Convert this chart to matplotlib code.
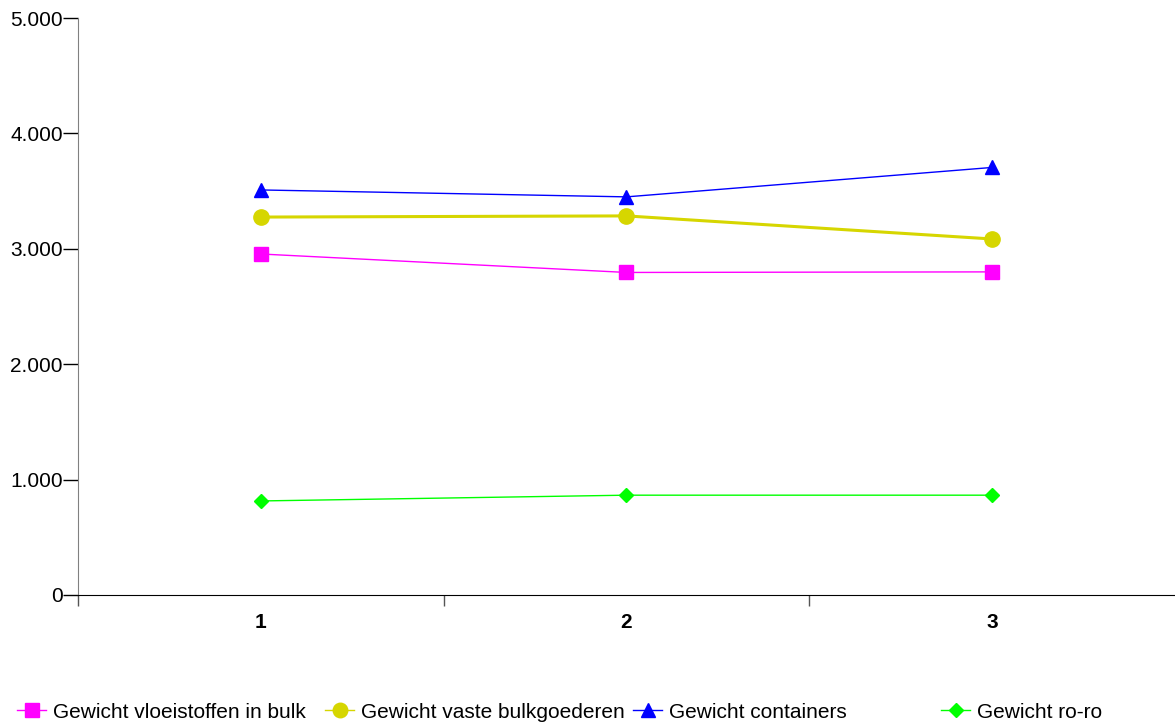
import matplotlib.pyplot as plt
from matplotlib.lines import Line2D
from matplotlib.ticker import FuncFormatter

plt.rcParams['font.family'] = ['Liberation Sans', 'DejaVu Sans']

# Gegevens
categorieen = [1, 2, 3]
vloeistoffen = [2955, 2795, 2800]
vaste_bulk = [3275, 3285, 3085]
containers = [3510, 3450, 3705]
roro = [815, 865, 865]

series = [
    ('Gewicht vloeistoffen in bulk', vloeistoffen, '#ff00ff', 's', 10, 1.0),
    ('Gewicht vaste bulkgoederen', vaste_bulk, '#d6d600', 'o', 11, 2.2),
    ('Gewicht containers', containers, '#0000ff', '^', 10, 1.0),
    ('Gewicht ro-ro', roro, '#00ff00', 'D', 7, 1.0),
]

fig = plt.figure(figsize=(11.75, 7.24), dpi=100)
ax = fig.add_axes([78 / 1175, 129 / 724, 1 - 78 / 1175, (595 - 18) / 724])

for naam, waarden, kleur, marker, ms, lw in series:
    ax.plot(categorieen, waarden, color=kleur, marker=marker, markersize=ms,
            linewidth=lw, label=naam, clip_on=False)

ax.set_xlim(0.5, 3.5)
ax.set_ylim(0, 5000)
ax.set_yticks(range(0, 5001, 1000))
ax.yaxis.set_major_formatter(FuncFormatter(lambda v, p: f'{int(v):,}'.replace(',', '.')))
ax.tick_params(axis='y', direction='out', length=11, width=1, labelsize=15, pad=0)

# x-as: tekst op categorieen, streepjes tussen categorieen
ax.set_xticks(categorieen)
ax.set_xticklabels([str(c) for c in categorieen], fontweight='bold', fontsize=15)
ax.tick_params(axis='x', length=0, pad=13)
ax.set_xticks([0.5, 1.5, 2.5], minor=True)
ax.tick_params(axis='x', which='minor', direction='out', length=8, width=1, color='#555555')

ax.spines['top'].set_visible(False)
ax.spines['right'].set_visible(False)
ax.spines['left'].set_color('#808080')
ax.spines['bottom'].set_color('black')

# Legenda met vaste kolombreedte
x_start = [17, 325, 633, 941]
for (naam, waarden, kleur, marker, ms, lw), x0 in zip(series, x_start):
    h = Line2D([], [], color=kleur, marker=marker, markersize=ms * 0.95, linewidth=1.0)
    leg = fig.legend(handles=[h], labels=[naam], loc='center left',
                     bbox_to_anchor=(x0 / 1175, 1 - 712 / 724), frameon=False,
                     fontsize=15, handlelength=1.4, handletextpad=0.33,
                     borderpad=0, borderaxespad=0)

fig.savefig('out.png', dpi=100)
